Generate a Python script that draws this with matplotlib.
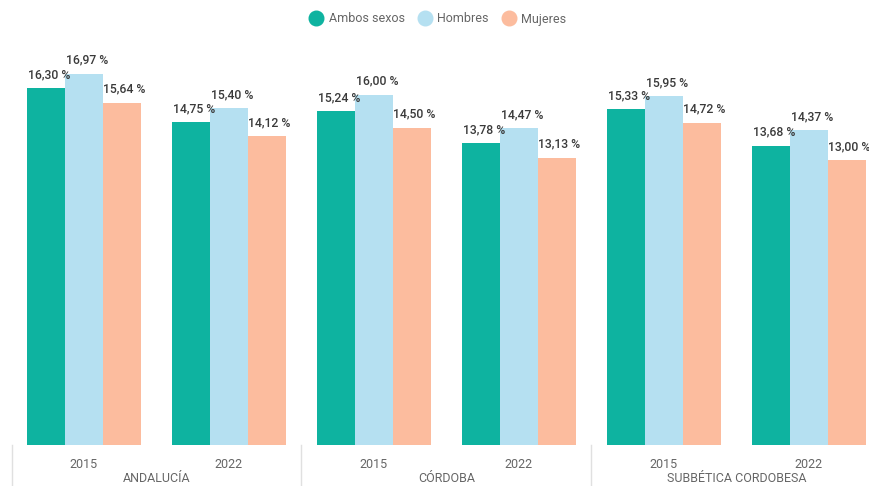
import matplotlib
matplotlib.use("Agg")
import matplotlib.pyplot as plt
import numpy as np
from matplotlib.lines import Line2D

regions = ["ANDALUCÍA", "CÓRDOBA", "SUBBÉTICA CORDOBESA"]
years = ["2015", "2022"]
series = ["Ambos sexos", "Hombres", "Mujeres"]
ambos = [16.30, 14.75, 15.24, 13.78, 15.33, 13.68]
hombres = [16.97, 15.40, 16.00, 14.47, 15.95, 14.37]
mujeres = [15.64, 14.12, 14.50, 13.13, 14.72, 13.00]
colors = ["#0EB3A0", "#B5E0F1", "#FCBC9E"]

W, H = 869, 486
fig = plt.figure(figsize=(W/100, H/100), dpi=100)
left, right, bottom, top = 11.5, 881.5, 445, 51
ax = fig.add_axes([left/W, 1-bottom/H, (right-left)/W, (bottom-top)/H])

n = len(ambos)
x = np.arange(n)
bw = 0.26
txt = "#3A3A3A"
fontfam = ["Roboto", "DejaVu Sans"]
for k, vals in enumerate([ambos, hombres, mujeres]):
    xs = x + (k-1)*bw
    ax.bar(xs, vals, width=bw, color=colors[k], label=series[k], zorder=2)
    for xi, v in zip(xs, vals):
        ax.annotate(f"{v:.2f} %".replace(".", ","), (xi, v), xytext=(2, 5),
                    textcoords="offset points", ha="center", va="bottom",
                    fontsize=8.8, color=txt, family=fontfam, weight="medium",
                    zorder=3)

ax.set_xlim(-0.5, n-0.5)
ax.set_ylim(0, 18)
for s in ax.spines.values():
    s.set_visible(False)
ax.set_yticks([])
ax.set_xticks(x)
ax.set_xticklabels(years*3, fontsize=9, color="#666666", family=fontfam)
ax.tick_params(axis="x", length=0, pad=9)

trans = ax.get_xaxis_transform()
for i, r in enumerate(regions):
    ax.text(2*i+0.5, -0.085, r, transform=trans, ha="center", va="center",
            fontsize=9, color="#666666", family=fontfam)
for b in [-0.5, 1.5, 3.5]:
    ax.add_line(Line2D([b, b], [0, -0.11], transform=trans, color="#E0E0E0",
                       lw=1, clip_on=False))

handles = [Line2D([], [], marker="o", ls="", markersize=10.5, color=c) for c in colors]
fig.legend(handles, series, loc="center", bbox_to_anchor=(435/W, 1-19/H),
           ncol=3, frameon=False, handletextpad=0.0, columnspacing=0.6,
           prop={"family": fontfam, "size": 9}, labelcolor="#666666")

fig.savefig("out.png", dpi=100)
